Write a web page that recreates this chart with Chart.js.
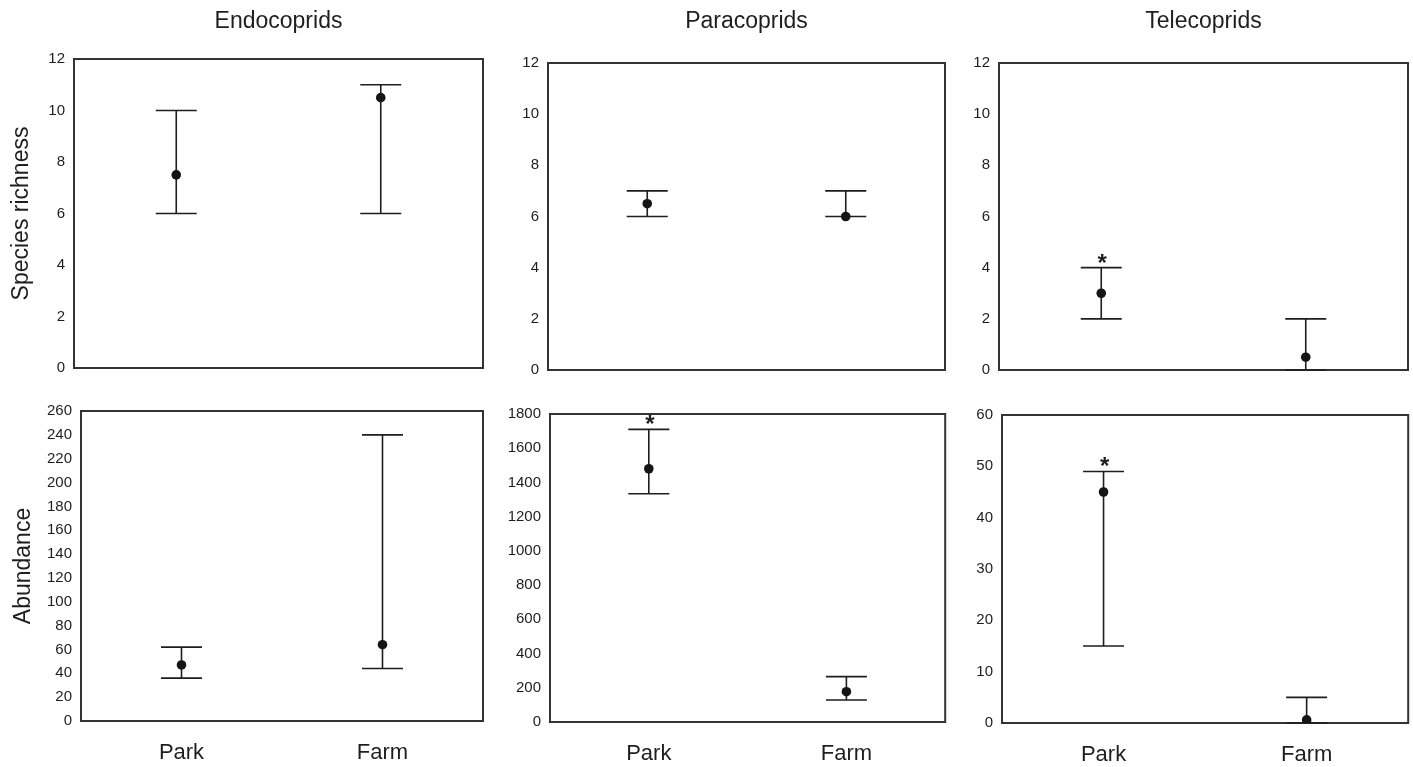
<!DOCTYPE html>
<html>
<head>
    <title>Dung beetle guilds: Park vs Farm</title>
    <script src="https://cdn.jsdelivr.net/npm/chart.js"></script>
    <style>
        body {
            margin: 0;
            background: #fff;
        }
        .panel {
            position: absolute;
        }
    </style>
</head>
<body>
    <div class="panel" id="p1"><canvas id="c1"></canvas></div>
    <div class="panel" id="p2"><canvas id="c2"></canvas></div>
    <div class="panel" id="p3"><canvas id="c3"></canvas></div>
    <div class="panel" id="p4"><canvas id="c4"></canvas></div>
    <div class="panel" id="p5"><canvas id="c5"></canvas></div>
    <div class="panel" id="p6"><canvas id="c6"></canvas></div>

    <script>
        // Categories
        const sites = ['Park', 'Farm'];
        const guilds = ['Endocoprids', 'Paracoprids', 'Telecoprids'];

        // Species richness (mean, lower and upper bar ends)
        const endoRichMean = [7.5, 10.5];
        const endoRichLow = [6, 6];
        const endoRichHigh = [10, 11];

        const paraRichMean = [6.5, 6];
        const paraRichLow = [6, 6];
        const paraRichHigh = [7, 7];

        const teleRichMean = [3, 0.5];
        const teleRichLow = [2, 0];
        const teleRichHigh = [4, 2];
        const teleRichSig = [true, false];

        // Abundance
        const endoAbunMean = [47, 64];
        const endoAbunLow = [36, 44];
        const endoAbunHigh = [62, 240];

        const paraAbunMean = [1480, 177];
        const paraAbunLow = [1334, 129];
        const paraAbunHigh = [1710, 265];
        const paraAbunSig = [true, false];

        const teleAbunMean = [45, 0.6];
        const teleAbunLow = [15, 0];
        const teleAbunHigh = [49, 5];
        const teleAbunSig = [true, false];

        // Tick labels
        const richTicks = [0, 2, 4, 6, 8, 10, 12];
        const endoAbunTicks = [0, 20, 40, 60, 80, 100, 120, 140, 160, 180, 200, 220, 240, 260];
        const paraAbunTicks = [0, 200, 400, 600, 800, 1000, 1200, 1400, 1600, 1800];
        const teleAbunTicks = [0, 10, 20, 30, 40, 50, 60];

        const FONT = '"Liberation Sans", Arial, sans-serif';
        const INK = '#1e1e1e';

        // box around the plot area
        const frame = {
            id: 'frame',
            beforeDatasetsDraw(chart) {
                const { ctx, chartArea: a } = chart;
                ctx.save();
                ctx.strokeStyle = '#333';
                ctx.lineWidth = 2;
                ctx.strokeRect(a.left, a.top, a.right - a.left, a.bottom - a.top);
                ctx.restore();
            }
        };

        // whiskers with caps + significance star
        const errorBars = {
            id: 'errorBars',
            beforeDatasetsDraw(chart, args, opts) {
                const { ctx } = chart;
                const x = chart.scales.x, y = chart.scales.y;
                ctx.save();
                ctx.strokeStyle = INK;
                ctx.lineWidth = 1.6;
                opts.low.forEach((lo, i) => {
                    const px = x.getPixelForValue(i);
                    const yl = y.getPixelForValue(lo);
                    const yh = y.getPixelForValue(opts.high[i]);
                    ctx.beginPath();
                    ctx.moveTo(px, yl); ctx.lineTo(px, yh);
                    ctx.moveTo(px - 20.5, yl); ctx.lineTo(px + 20.5, yl);
                    ctx.moveTo(px - 20.5, yh); ctx.lineTo(px + 20.5, yh);
                    ctx.stroke();
                    if (opts.sig && opts.sig[i]) {
                        ctx.fillStyle = INK;
                        ctx.font = 'bold 24px ' + FONT;
                        ctx.textAlign = 'center';
                        ctx.textBaseline = 'alphabetic';
                        ctx.fillText('*', px + 1, yh + 3);
                    }
                });
                ctx.restore();
            }
        };

        // guild name above a top-row panel
        const panelTitle = {
            id: 'panelTitle',
            afterDraw(chart, args, opts) {
                if (!opts.text) return;
                const { ctx, chartArea: a } = chart;
                ctx.save();
                ctx.fillStyle = INK;
                ctx.font = '23px ' + FONT;
                ctx.textAlign = 'center';
                ctx.textBaseline = 'middle';
                ctx.fillText(opts.text, (a.left + a.right) / 2, opts.y);
                ctx.restore();
            }
        };

        function makePanel(id, box, mean, low, high, sig, ticks, opt) {
            const wrap = document.getElementById('p' + id);
            wrap.style.left = box.x + 'px';
            wrap.style.top = box.y + 'px';
            wrap.style.width = box.w + 'px';
            wrap.style.height = box.h + 'px';

            return new Chart(document.getElementById('c' + id), {
                type: 'line',
                data: {
                    labels: sites,
                    datasets: [{
                        data: mean,
                        showLine: false,
                        pointRadius: 4.8,
                        pointHoverRadius: 4.8,
                        pointBackgroundColor: '#151515',
                        pointBorderColor: '#151515',
                        pointBorderWidth: 0
                    }]
                },
                options: {
                    responsive: true,
                    maintainAspectRatio: false,
                    animation: false,
                    layout: { padding: { top: box.padTop, right: box.padRight, left: 0, bottom: 0 } },
                    scales: {
                        x: {
                            type: 'category',
                            offset: true,
                            grid: { display: false, drawTicks: false },
                            border: { display: false },
                            ticks: {
                                display: opt.xLabels,
                                color: INK,
                                padding: 19,
                                font: { family: FONT, size: 22 }
                            },
                            afterFit: s => { s.height = box.xHeight; }
                        },
                        y: {
                            min: ticks[0],
                            max: ticks[ticks.length - 1],
                            grid: { display: false, drawTicks: false },
                            border: { display: false },
                            ticks: {
                                autoSkip: false,
                                color: INK,
                                padding: 9,
                                font: { family: FONT, size: 15 },
                                callback: v => String(v)
                            },
                            afterBuildTicks: s => { s.ticks = ticks.map(v => ({ value: v })); },
                            title: {
                                display: !!opt.yTitle,
                                text: opt.yTitle || '',
                                color: INK,
                                padding: { top: opt.yTitlePad || 0, bottom: 0 },
                                font: { family: FONT, size: 23 }
                            },
                            afterFit: s => { s.width = box.yWidth; }
                        }
                    },
                    plugins: {
                        legend: { display: false },
                        tooltip: { enabled: false },
                        errorBars: { low: low, high: high, sig: sig },
                        panelTitle: { text: opt.title, y: 22 }
                    }
                },
                plugins: [frame, errorBars, panelTitle]
            });
        }

        // Top row: species richness
        makePanel(1, { x: 0, y: 0, w: 490, h: 390, yWidth: 74, padRight: 7, padTop: 59, xHeight: 22 },
            endoRichMean, endoRichLow, endoRichHigh, null, richTicks,
            { title: guilds[0], yTitle: 'Species richness', yTitlePad: 8, xLabels: false });
        makePanel(2, { x: 490, y: 0, w: 460, h: 390, yWidth: 58, padRight: 5, padTop: 63, xHeight: 20 },
            paraRichMean, paraRichLow, paraRichHigh, null, richTicks,
            { title: guilds[1], xLabels: false });
        makePanel(3, { x: 950, y: 0, w: 463, h: 390, yWidth: 49, padRight: 5, padTop: 63, xHeight: 20 },
            teleRichMean, teleRichLow, teleRichHigh, teleRichSig, richTicks,
            { title: guilds[2], xLabels: false });

        // Bottom row: abundance
        makePanel(4, { x: 0, y: 390, w: 490, h: 377, yWidth: 81, padRight: 7, padTop: 21, xHeight: 46 },
            endoAbunMean, endoAbunLow, endoAbunHigh, null, endoAbunTicks,
            { yTitle: 'Abundance', yTitlePad: 10, xLabels: true });
        makePanel(5, { x: 490, y: 390, w: 460, h: 377, yWidth: 60, padRight: 2, padTop: 24, xHeight: 45 },
            paraAbunMean, paraAbunLow, paraAbunHigh, paraAbunSig, paraAbunTicks,
            { xLabels: true });
        makePanel(6, { x: 950, y: 390, w: 463, h: 377, yWidth: 52, padRight: 4, padTop: 25, xHeight: 44 },
            teleAbunMean, teleAbunLow, teleAbunHigh, teleAbunSig, teleAbunTicks,
            { xLabels: true });
    </script>
</body>
</html>
